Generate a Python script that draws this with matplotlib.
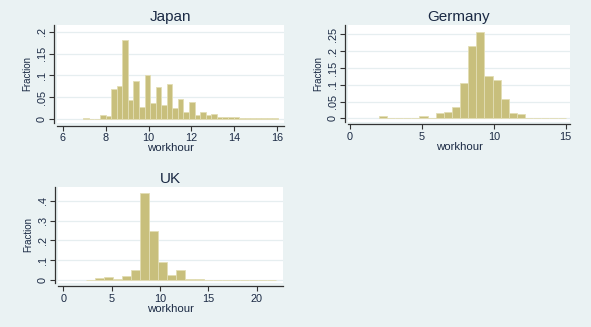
import numpy as np
import matplotlib
matplotlib.use("Agg")
import matplotlib.pyplot as plt

plt.rcParams["font.family"] = ["Liberation Sans", "DejaVu Sans"]

# ---------------- data ----------------
countries = ["Japan", "Germany", "UK"]

japan_min, japan_max, japan_nbins = 6.95, 16.05, 35
japan_frac = [0.001, 0.0, 0.0, 0.008, 0.006, 0.068, 0.075, 0.182, 0.044, 0.087,
              0.028, 0.100, 0.036, 0.073, 0.031, 0.081, 0.025, 0.046, 0.016, 0.038,
              0.009, 0.015, 0.009, 0.010, 0.004, 0.004, 0.004, 0.003, 0.002, 0.0015,
              0.0015, 0.0015, 0.001, 0.001, 0.001]
japan_xticks = [6, 8, 10, 12, 14, 16]
japan_yticks = [0, 0.05, 0.10, 0.15, 0.20]
japan_ytl = ["0", ".05", ".1", ".15", ".2"]

germany_min, germany_max, germany_nbins = 2.0, 15.0, 23
germany_frac = [0.006, 0.0, 0.0, 0.0, 0.002, 0.007, 0.002, 0.017, 0.018, 0.033,
                0.105, 0.216, 0.258, 0.125, 0.114, 0.058, 0.016, 0.014, 0.002, 0.001,
                0.0, 0.0, 0.002]
germany_xticks = [0, 5, 10, 15]
germany_yticks = [0, 0.05, 0.10, 0.15, 0.20, 0.25]
germany_ytl = ["0", ".05", ".1", ".15", ".2", ".25"]

uk_min, uk_max, uk_nbins = 2.3, 22.0, 21
uk_frac = [0.004, 0.013, 0.018, 0.007, 0.022, 0.054, 0.437, 0.246, 0.092, 0.028,
           0.050, 0.006, 0.006, 0.002, 0.0, 0.0, 0.0, 0.0, 0.001, 0.0, 0.001]
uk_xticks = [0, 5, 10, 15, 20]
uk_yticks = [0, 0.1, 0.2, 0.3, 0.4]
uk_ytl = ["0", ".1", ".2", ".3", ".4"]

# ---------------- style ----------------
BG = "#EAF2F3"
BAR = "#C8BF7C"
EDGE = "#E2DDB4"
GRID = "#E6EEF0"
TXT = "#1B2A44"

fig = plt.figure(figsize=(5.91, 3.27), dpi=100, facecolor=BG)

W, H = 591, 327
def rect(x0, y0, x1, y1):
    return [x0 / W, (H - y1) / H, (x1 - x0) / W, (y1 - y0) / H]

panels = [
    dict(name=countries[0], r=rect(57, 25, 284, 123), lo=japan_min, hi=japan_max,
         n=japan_nbins, vals=japan_frac, xt=japan_xticks, yt=japan_yticks,
         ytl=japan_ytl, xlim=(5.72, 16.33), ylim=(-0.0099, 0.2157)),
    dict(name=countries[1], r=rect(348, 25, 570, 121.7), lo=germany_min, hi=germany_max,
         n=germany_nbins, vals=germany_frac, xt=germany_xticks, yt=germany_yticks,
         ytl=germany_ytl, xlim=(-0.14, 15.3), ylim=(-0.0101, 0.2777)),
    dict(name=countries[2], r=rect(58, 186.7, 283, 283.3), lo=uk_min, hi=uk_max,
         n=uk_nbins, vals=uk_frac, xt=uk_xticks, yt=uk_yticks,
         ytl=uk_ytl, xlim=(-0.55, 22.7), ylim=(-0.015, 0.47)),
]

for p in panels:
    ax = fig.add_axes(p["r"])
    ax.set_facecolor("white")
    edges = np.linspace(p["lo"], p["hi"], p["n"] + 1)
    w = edges[1] - edges[0]
    ax.bar(edges[:-1], p["vals"], width=w, align="edge", color=BAR,
           edgecolor=EDGE, linewidth=0.6, zorder=3)
    ax.set_xlim(*p["xlim"])
    ax.set_ylim(*p["ylim"])
    ax.set_xticks(p["xt"])
    ax.set_yticks(p["yt"])
    ax.set_yticklabels(p["ytl"])
    ax.grid(axis="y", color=GRID, linewidth=0.9, zorder=0)
    ax.set_axisbelow(True)
    for s in ["top", "right"]:
        ax.spines[s].set_visible(False)
    for s in ["left", "bottom"]:
        ax.spines[s].set_position(("outward", 2))
        ax.spines[s].set_color("#333333")
        ax.spines[s].set_linewidth(0.9)
    ax.tick_params(axis="both", length=3.5, width=0.8, color="#333333",
                   labelsize=7.8, labelcolor=TXT, pad=2)
    ax.tick_params(axis="y", labelrotation=90)
    for lab in ax.get_yticklabels():
        lab.set_verticalalignment("center")
    ax.set_xlabel("workhour", fontsize=8.2, color=TXT, labelpad=0)
    ax.set_ylabel("Fraction", fontsize=7, color=TXT, labelpad=3)
    ax.set_title(p["name"], fontsize=11, color=TXT, pad=3)

fig.savefig("out.png", dpi=100, facecolor=BG)
